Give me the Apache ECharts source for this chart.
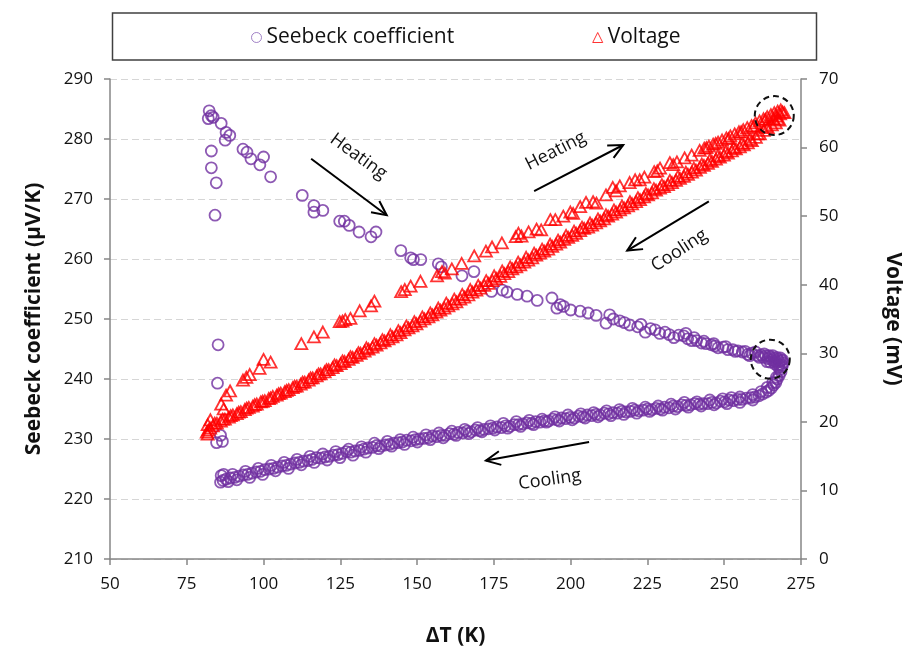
<!DOCTYPE html>
<html>
<head>
<meta charset="utf-8">
<script src="https://cdn.jsdelivr.net/npm/echarts@6/dist/echarts.min.js"></script>
<style>
html,body{margin:0;padding:0;background:#fff;}
#chart{width:911px;height:652px;}
</style>
</head>
<body>
<div id="chart"></div>
<script>
// ---------- Data ----------
var xTicks = [50, 75, 100, 125, 150, 175, 200, 225, 250, 275];
var seebeckTicks = [210, 220, 230, 240, 250, 260, 270, 280, 290];
var voltageTicks = [0, 10, 20, 30, 40, 50, 60, 70];

// Seebeck coefficient, heating run (ΔT in K, S in µV/K)
var seebeckHeatT = [82.3,83.0,82.0,83.6,86.2,87.8,89.0,87.5,83.0,83.0,84.6,84.2,93.3,94.6,95.9,98.8,100.0,102.3,
  112.6,116.4,116.4,119.3,124.8,126.3,127.9,131.1,135.0,136.6,144.7,147.9,148.8,151.2,156.9,157.9,164.6,168.5,
  174.2,177.8,179.3,182.6,185.8,189.1,193.9,195.5,196.6,197.7,200.0,203.1,205.7,208.3,211.5,212.7,213.9,216.0,
  217.5,219.2,221.8,222.9,224.3,226.0,227.5,229.0,230.7,232.1,233.6,235.2,236.8,238.1,239.4,241.0,242.6,244.1,
  245.8,247.0,248.0,249.6,251.2,252.8,254.5,255.9,257.7,259.0,260.9,262.0,262.8,263.5,264.2,264.9,265.5,266.1,
  266.8,267.4,268.0,268.6,269.2,265.0,266.5,267.8,85.2,85.0,84.7,86.6,86.0,
  250.5,253.6,256.8,258.3,261.5,263.0,264.6,265.8,267.1,268.3,269.0,263.9,266.3,268.9,267.6,260.2,246.6,243.4,240.2,237.5];
var seebeckHeatS = [284.7,283.9,283.4,283.6,282.6,281.1,280.6,279.8,278.0,275.2,272.7,267.3,278.3,277.8,276.7,275.7,277.0,273.7,
  270.6,268.9,267.8,268.1,266.3,266.3,265.6,264.5,263.7,264.5,261.4,260.2,259.9,259.9,259.2,258.7,257.2,257.9,
  254.6,254.8,254.5,254.1,253.8,253.1,253.5,251.8,252.4,252.1,251.5,251.3,251.0,250.6,249.3,250.7,250.0,249.7,
  249.4,249.0,248.7,249.1,247.8,248.4,248.2,247.6,247.8,247.4,246.9,247.3,247.2,246.7,246.4,246.4,246.0,245.9,
  245.7,245.5,245.2,245.3,244.9,244.9,244.7,244.5,244.1,244.3,243.9,244.0,243.6,243.9,243.4,243.7,243.2,243.5,
  243.0,243.3,242.9,243.1,242.7,242.8,242.5,242.4,245.7,239.3,229.4,229.6,230.6,
  245.4,244.6,244.6,243.9,243.6,244.2,243.9,243.9,243.6,243.5,243.2,242.9,242.9,242.3,242.0,244.5,245.9,246.3,246.9,247.6];

// Seebeck coefficient, cooling run
var seebeckCoolT = [268.8,268.5,267.9,267.3,266.8,266.1,265.4,264.5,263.6,262.5,261.3,260.0,258.6,257.2,255.8,254.4,
  253.0,251.6,250.2,248.8,247.4,246.0,244.6,243.2,241.8,240.4,239.0,237.6,236.2,234.8,233.4,232.0,230.6,229.2,
  227.8,226.4,225.0,223.6,222.2,220.8,219.4,218.0,216.6,215.2,213.8,212.4,211.0,209.6,208.2,206.8,205.4,204.0,
  202.6,201.2,199.8,198.4,197.0,195.6,194.2,192.8,191.4,190.0,188.6,187.2,185.8,184.4,183.0,181.6,180.2,178.8,
  177.4,176.0,174.6,173.2,171.8,170.4,169.0,167.6,166.2,164.8,163.4,162.0,160.6,159.2,157.8,156.4,155.0,153.6,
  152.2,150.8,149.4,148.0,146.6,145.2,143.8,142.4,141.0,139.6,138.2,136.8,135.4,134.0,132.6,131.2,129.8,128.4,
  127.0,125.6,124.2,122.8,121.4,120.0,118.6,117.2,115.8,114.4,113.0,111.6,110.2,108.8,107.4,106.0,104.6,103.2,
  101.8,100.4,99.0,97.6,96.2,94.8,93.4,92.0,90.6,89.2,87.8,86.8,86.0,86.2,87.0,
  268.2,267.0,265.8,264.0,262.0,259.3,255.1,252.3,249.5,245.3,241.1,237.0,232.7,228.5,224.3,220.1,215.9,211.7,
  207.5,203.3,199.1,194.9,190.7,186.5,182.3,178.1,173.9,169.7,165.5,161.3,157.1,152.9,148.7,144.5,140.3,136.1,
  131.9,127.7,123.5,119.3,115.1,110.9,106.7,102.5,98.3,94.1,89.9,88.5,91.3,95.5,99.7,103.9,108.1,112.3,116.5,
  120.7,124.9,129.1,133.3,137.5,141.7,145.9,150.1,154.3,158.5,162.7,166.9,171.1,175.3,179.5,183.7,187.9,192.1,
  196.3,200.5,204.7,208.9,213.1,217.3,221.5,225.7,229.9,234.1,238.3,242.5,246.7,250.9,255.1,259.3];
var seebeckCoolS = [242.0,241.2,240.6,240.0,239.4,239.0,238.5,238.1,237.8,237.5,237.2,237.0,236.9,236.8,236.6,236.6,
  236.4,236.5,236.2,236.3,236.0,236.1,235.9,235.9,235.8,235.9,235.7,235.6,235.7,235.4,235.5,235.2,235.3,235.0,
  235.1,234.9,235.0,234.8,234.7,234.8,234.6,234.5,234.6,234.3,234.4,234.2,234.3,234.0,234.1,233.9,234.0,233.7,
  233.8,233.5,233.6,233.4,233.5,233.2,233.3,233.0,233.0,232.8,232.9,232.6,232.7,232.5,232.4,232.4,232.1,232.2,
  231.9,232.0,231.8,231.7,231.6,231.4,231.5,231.2,231.3,231.0,231.1,230.8,230.9,230.6,230.6,230.4,230.5,230.2,
  230.1,230.0,229.9,229.7,229.8,229.5,229.4,229.3,229.1,229.0,228.8,228.9,228.6,228.5,228.3,228.1,228.0,227.8,
  227.9,227.6,227.4,227.3,227.1,227.0,226.8,226.9,226.6,226.4,226.3,226.1,226.0,225.8,225.6,225.5,225.3,225.1,
  225.0,224.9,224.6,224.5,224.3,224.1,224.0,223.8,223.6,223.5,223.3,223.1,222.8,223.9,224.1,
  241.6,240.3,239.4,238.6,237.9,237.4,237.0,236.9,236.7,236.5,236.2,236.1,235.8,235.5,235.3,235.1,234.9,234.7,
  234.4,234.2,234.0,233.7,233.3,233.1,232.9,232.6,232.2,231.9,231.6,231.3,231.0,230.7,230.3,229.9,229.6,229.3,
  228.7,228.3,227.9,227.5,227.1,226.6,226.1,225.6,225.1,224.6,224.1,222.9,223.2,223.6,224.1,224.7,225.1,225.7,226.1,
  226.5,226.9,227.3,227.8,228.4,228.8,229.1,229.5,229.9,230.2,230.6,230.9,231.2,231.5,231.8,232.1,232.4,232.8,
  233.0,233.2,233.5,233.7,233.9,234.1,234.3,234.6,234.8,235.0,235.3,235.5,235.7,235.9,236.1,236.5];

// Voltage, heating run (ΔT in K, V in mV)
var voltHeatT = [82.7,81.8,86.2,87.0,87.8,89.1,93.3,94.4,95.5,98.7,100.0,102.3,112.3,116.4,119.3,124.8,125.7,126.6,
  128.3,131.3,135.0,136.1,144.8,146.0,147.9,151.1,156.5,158.1,159.0,161.3,164.5,168.6,172.4,174.4,177.6,182.1,
  184.0,186.3,188.9,193.4,195.0,197.6,199.9,203.1,205.0,207.3,211.5,213.7,216.0,219.2,221.0,224.0,227.2,229.1,
  232.3,234.6,237.1,239.4,242.0,243.5,245.0,246.4,248.0,249.3,250.7,252.0,253.4,254.8,256.2,257.5,258.9,260.2,
  261.5,262.8,264.0,265.2,266.3,267.4,268.4,267.0,268.2,266.0,269.0,269.6,244.2,247.2,251.4,255.5,259.6,263.4,
  233.4,228.2,222.5,214.8,208.4,200.8,190.4,183.0];
var voltHeatV = [20.3,19.6,22.6,21.9,23.9,24.5,26.1,26.5,26.9,27.8,29.1,28.7,31.4,32.4,33.1,34.6,34.7,34.9,
  35.1,36.2,36.9,37.6,39.0,39.3,39.8,40.5,41.3,41.9,41.7,42.3,43.1,44.2,44.9,45.5,46.1,47.0,
  47.1,47.7,48.1,49.5,49.5,50.0,50.6,51.4,52.0,52.1,53.1,54.2,54.4,54.9,55.3,55.7,56.5,57.0,
  57.8,57.9,58.5,58.9,59.6,59.9,60.2,60.5,60.8,61.1,61.4,61.7,62.0,62.3,62.6,62.9,63.2,63.6,
  63.9,64.2,64.5,64.8,65.1,65.3,65.5,64.6,64.9,64.2,65.2,65.1,60.0,60.6,61.3,62.3,63.1,64.1,
  57.5,56.6,55.3,53.7,51.9,50.4,48.0,47.5];

// Voltage, cooling run
var voltCoolT = [268.0,266.8,265.5,264.2,262.9,261.6,260.3,259.0,257.7,256.4,255.1,253.8,252.5,251.2,249.9,248.6,
  247.3,246.0,244.7,243.4,242.1,240.8,239.5,238.2,236.9,235.6,234.3,233.0,231.7,230.4,229.1,227.8,226.5,225.2,
  223.9,222.6,221.3,220.0,218.7,217.4,216.1,214.8,213.5,212.2,210.9,209.6,208.3,207.0,205.7,204.4,203.1,201.8,
  200.5,199.2,197.9,196.6,195.3,194.0,192.7,191.4,190.1,188.8,187.5,186.2,184.9,183.6,182.3,181.0,179.7,178.4,
  177.1,175.8,174.5,173.2,171.9,170.6,169.3,168.0,166.7,165.4,164.1,162.8,161.5,160.2,158.9,157.6,156.3,155.0,
  153.7,152.4,151.1,149.8,148.5,147.2,145.9,144.6,143.3,142.0,140.7,139.4,138.1,136.8,135.5,134.2,132.9,131.6,
  130.3,129.0,127.7,126.4,125.1,123.8,122.5,121.2,119.9,118.6,117.3,116.0,114.7,113.4,112.1,110.8,109.5,108.2,
  106.9,105.6,104.3,103.0,101.7,100.4,99.1,97.8,96.5,95.2,93.9,92.6,91.3,90.0,88.7,87.4,86.1,84.8,83.5,82.6,
  82.0,81.5,81.8,
  267.4,263.6,260.9,258.4,255.8,253.1,250.5,247.9,245.3,242.7,240.1,237.5,234.9,232.3,229.7,227.1,224.5,221.9,
  219.3,216.7,214.1,211.5,208.9,206.3,203.7,201.1,198.5,195.9,193.3,190.7,188.1,185.5,182.9,180.3,177.7,175.1,
  172.5,169.9,167.3,164.7,162.1,159.5,156.9,154.3,151.7,149.1,146.5,143.9,141.3,138.7,136.1,133.5,130.9,128.3,
  125.7,123.1,120.5,117.9,115.3,112.7,110.1,107.5,104.9,102.3,99.7,97.1,94.5,91.9,89.3,86.7,84.1];
var voltCoolV = [64.0,63.6,63.3,62.9,62.5,62.0,61.5,61.0,60.7,60.4,60.1,59.8,59.5,59.2,58.9,58.6,
  58.3,58.0,57.7,57.4,57.1,56.7,56.4,56.1,55.8,55.5,55.2,54.9,54.6,54.3,54.1,53.8,53.4,53.1,
  52.8,52.4,52.1,51.8,51.5,51.2,50.9,50.6,50.3,50.0,49.6,49.3,49.0,48.7,48.4,48.2,47.9,47.5,
  47.2,46.9,46.6,46.2,45.9,45.6,45.2,44.9,44.6,44.3,43.9,43.6,43.3,42.9,42.6,42.3,41.9,41.6,
  41.2,40.9,40.6,40.2,39.9,39.5,39.2,38.9,38.5,38.2,37.9,37.5,37.2,36.9,36.6,36.3,36.0,35.6,
  35.3,35.0,34.7,34.3,34.0,33.7,33.4,33.0,32.7,32.4,32.1,31.8,31.5,31.2,30.9,30.6,30.3,30.0,
  29.7,29.4,29.1,28.8,28.5,28.2,27.9,27.6,27.3,27.0,26.7,26.4,26.1,25.8,25.5,25.2,25.0,24.7,
  24.4,24.2,23.9,23.7,23.4,23.1,22.9,22.6,22.3,22.1,21.8,21.5,21.2,21.0,20.7,20.4,20.1,19.8,19.4,19.1,
  18.8,18.5,18.2,
  64.2,63.1,62.0,61.2,60.6,60.0,59.4,58.8,58.2,57.6,57.0,56.4,55.8,55.2,54.6,54.0,53.3,52.7,
  52.1,51.5,50.9,50.2,49.6,49.0,48.4,47.8,47.2,46.5,45.9,45.2,44.6,44.0,43.3,42.6,42.0,41.3,
  40.6,39.9,39.3,38.6,37.9,37.3,36.6,35.9,35.3,34.6,34.0,33.3,32.7,32.0,31.4,30.8,30.1,29.5,
  28.9,28.3,27.6,27.0,26.4,25.8,25.2,24.6,24.1,23.5,23.0,22.5,22.0,21.4,20.9,20.4,19.8];

// Annotations (data coordinates on ΔT / Seebeck axes)
var arrowStarts = [[115.5, 276.7], [188.1, 271.3], [245.0, 269.6], [206.0, 229.5]];
var arrowEnds   = [[140.1, 267.3], [217.1, 279.0], [218.4, 261.4], [172.4, 226.4]];
var noteTexts = ['Heating', 'Heating', 'Cooling', 'Cooling'];
var notePos = [[130.9, 277.1], [195.1, 278.0], [235.4, 261.4], [193.2, 223.2]];
var noteAngle = [-36, 27, 33, 8];
var ringCenters = [[266.3, 283.9], [265.0, 243.3]];

// ---------- Build ----------
function zip(a, b) { var r = []; for (var i = 0; i < a.length; i++) r.push([a[i], b[i]]); return r; }
var seebeckData = zip(seebeckHeatT, seebeckHeatS).concat(zip(seebeckCoolT, seebeckCoolS));
var voltageData = zip(voltHeatT, voltHeatV).concat(zip(voltCoolT, voltCoolV));

var FONT = '"Open Sans", "Noto Sans", sans-serif';
var axisCol = '#868686';
var chart = echarts.init(document.getElementById('chart'), null, {renderer: 'canvas'});

var option = {
  backgroundColor: '#ffffff',
  animation: false,
  textStyle: {fontFamily: FONT},
  grid: {left: 110, right: 97, top: 79, bottom: 87},
  legend: {
    left: 246, top: 22, itemGap: 138, itemWidth: 10, itemHeight: 10,
    textStyle: {fontFamily: FONT, fontSize: 21, color: '#111'},
    data: [
      {name: 'Seebeck coefficient', icon: 'circle', itemStyle: {color: 'transparent', borderColor: '#8a63b8', borderWidth: 1}},
      {name: 'Voltage', icon: 'triangle', itemStyle: {color: 'transparent', borderColor: '#ff0000', borderWidth: 1}}
    ]
  },
  xAxis: {
    type: 'value', min: xTicks[0], max: xTicks[xTicks.length - 1], interval: 25,
    name: 'ΔT (K)', nameLocation: 'middle', nameGap: 67,
    nameTextStyle: {fontFamily: FONT, fontSize: 21, fontWeight: 'bold', color: '#111'},
    axisLine: {show: true, onZero: false, lineStyle: {color: axisCol, width: 1.5}},
    axisTick: {show: true, length: 6, lineStyle: {color: axisCol, width: 1.5}},
    axisLabel: {fontFamily: FONT, fontSize: 17, color: '#111', margin: 17},
    splitLine: {show: false}
  },
  yAxis: [{
    type: 'value', min: seebeckTicks[0], max: seebeckTicks[seebeckTicks.length - 1], interval: 10,
    name: 'Seebeck coefficient (µV/K)', nameLocation: 'middle', nameGap: 65, nameRotate: 90,
    nameTextStyle: {fontFamily: FONT, fontSize: 21, fontWeight: 'bold', color: '#111'},
    axisLine: {show: true, onZero: false, lineStyle: {color: axisCol, width: 1.5}},
    axisTick: {show: true, length: 6, lineStyle: {color: axisCol, width: 1.5}},
    axisLabel: {fontFamily: FONT, fontSize: 17, color: '#111', margin: 17},
    splitLine: {show: true, lineStyle: {color: '#d6d6d6', width: 1, type: [7, 4]}}
  }, {
    type: 'value', position: 'right', min: voltageTicks[0], max: voltageTicks[voltageTicks.length - 1], interval: 10,
    name: 'Voltage (mV)', nameLocation: 'middle', nameGap: 81, nameRotate: -90,
    nameTextStyle: {fontFamily: FONT, fontSize: 21, fontWeight: 'bold', color: '#111'},
    axisLine: {show: true, onZero: false, lineStyle: {color: axisCol, width: 1.5}},
    axisTick: {show: true, length: 6, lineStyle: {color: axisCol, width: 1.5}},
    axisLabel: {fontFamily: FONT, fontSize: 17, color: '#111', margin: 18},
    splitLine: {show: false}
  }],
  series: [{
    name: 'Seebeck coefficient', type: 'scatter', xAxisIndex: 0, yAxisIndex: 0,
    symbol: 'circle', symbolSize: 11,
    itemStyle: {color: 'transparent', borderColor: '#7030a0', borderWidth: 1.8},
    emphasis: {disabled: true},
    data: seebeckData
  }, {
    name: 'Voltage', type: 'scatter', xAxisIndex: 0, yAxisIndex: 1,
    symbol: 'triangle', symbolSize: [12, 11],
    itemStyle: {color: 'transparent', borderColor: '#ff0000', borderWidth: 1.8},
    emphasis: {disabled: true},
    data: voltageData
  }]
};
chart.setOption(option);

// ---------- Annotations (positioned through the axes) ----------
function px(p) { return chart.convertToPixel({xAxisIndex: 0, yAxisIndex: 0}, p); }
var g = [];
g.push({type: 'rect', shape: {x: 112.5, y: 13, width: 704, height: 47},
  style: {fill: 'none', stroke: '#404040', lineWidth: 1.5}, z: 1});
for (var i = 0; i < arrowStarts.length; i++) {
  var a = px(arrowStarts[i]), b = px(arrowEnds[i]);
  var ang = Math.atan2(b[1] - a[1], b[0] - a[0]);
  var L = 16, spread = 0.45;
  var h1 = [b[0] - L * Math.cos(ang - spread), b[1] - L * Math.sin(ang - spread)];
  var h2 = [b[0] - L * Math.cos(ang + spread), b[1] - L * Math.sin(ang + spread)];
  g.push({type: 'line', shape: {x1: a[0], y1: a[1], x2: b[0], y2: b[1]}, style: {stroke: '#000', lineWidth: 2}, z: 10});
  g.push({type: 'polyline', shape: {points: [h1, b, h2]}, style: {stroke: '#000', lineWidth: 2, fill: 'none'}, z: 10});
  var t = px(notePos[i]);
  g.push({type: 'text', x: t[0], y: t[1], rotation: noteAngle[i] * Math.PI / 180,
    style: {text: noteTexts[i], fill: '#111', font: '18px ' + FONT, align: 'center', verticalAlign: 'middle'}, z: 10});
}
for (var j = 0; j < ringCenters.length; j++) {
  var c = px(ringCenters[j]);
  g.push({type: 'circle', shape: {cx: c[0], cy: c[1], r: 19.5},
    style: {fill: 'none', stroke: '#111', lineWidth: 2, lineDash: [6, 4]}, z: 10});
}
chart.setOption({graphic: g});
</script>
</body>
</html>
